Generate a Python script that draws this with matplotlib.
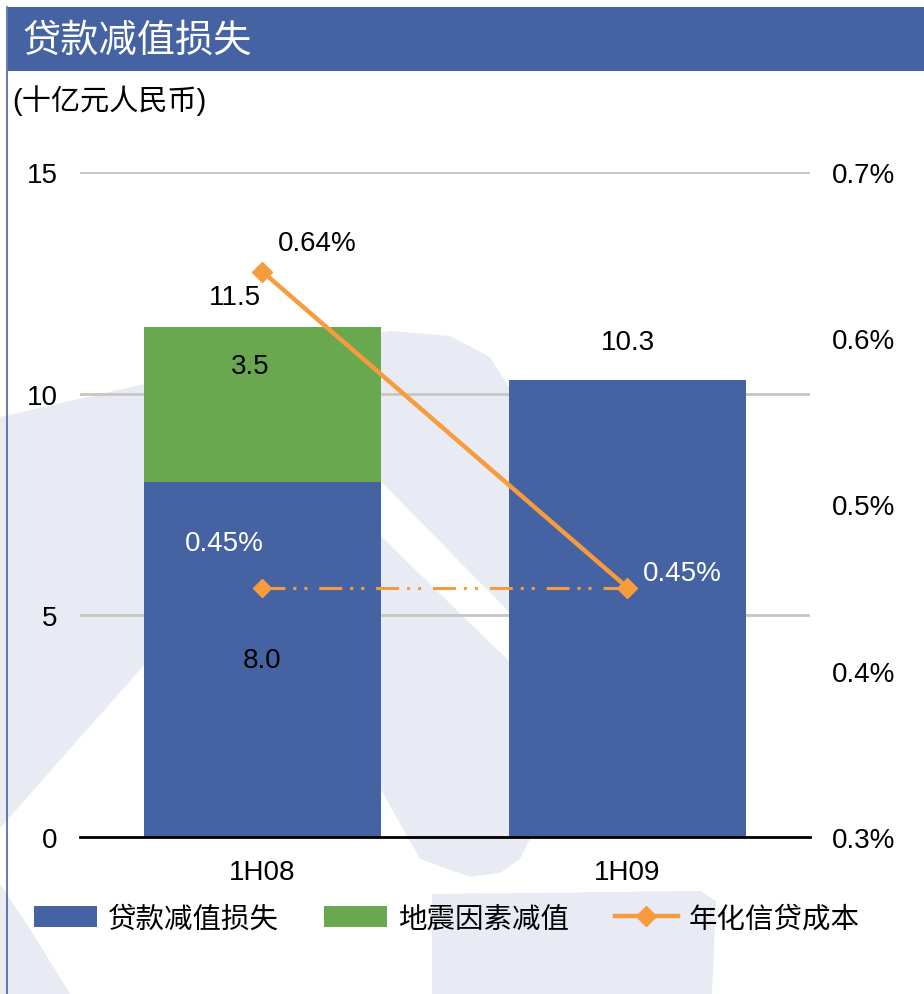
import matplotlib
matplotlib.use("Agg")
import matplotlib.pyplot as plt
from matplotlib.patches import Polygon, Rectangle
from matplotlib.ticker import FuncFormatter

plt.rcParams['font.family'] = ['Liberation Sans', 'Noto Sans CJK SC', 'DejaVu Sans']

# ===== datos =====
periodos = ['1H08', '1H09']
perdida_prestamos = [8.0, 10.3]
perdida_terremoto = [3.5, 0.0]
total_etiquetas = [11.5, 10.3]
coste_credito = [0.64, 0.45]
coste_sin_terremoto = [0.45, 0.45]

titulo = '贷款减值损失'
unidad = '(十亿元人民币)'
serie_nombres = ['贷款减值损失', '地震因素减值', '年化信贷成本']

AZUL = '#4563A3'
VERDE = '#6AA84F'
NARANJA = '#F79B3D'
MARCA_AGUA = '#E8EBF3'

W, H = 924, 995
fig = plt.figure(figsize=(W / 100, H / 100), dpi=100)

# ===== fondo: cabecera y marca de agua (coordenadas en pixeles) =====
bg = fig.add_axes([0, 0, 1, 1])
bg.set_xlim(0, W)
bg.set_ylim(H, 0)
bg.axis('off')

formas = [
    [(0, 418), (140, 386), (300, 346), (390, 332), (450, 337), (490, 358), (510, 390),
     (650, 600), (520, 860), (500, 874), (470, 878), (420, 860), (375, 780),
     (145, 665), (0, 829)],
    [(432, 895), (700, 892), (716, 902), (712, 995), (432, 995)],
    [(0, 885), (30, 930), (70, 995), (0, 995)],
]
for f in formas:
    bg.add_patch(Polygon(f, closed=True, facecolor=MARCA_AGUA, edgecolor='none'))
# franja blanca diagonal
bg.add_patch(Polygon([(300, 400), (560, 665), (560, 712), (300, 458)],
                     closed=True, facecolor='white', edgecolor='none'))

bg.add_patch(Rectangle((8, 8), W - 8, 64, facecolor=AZUL, edgecolor='none'))
bg.plot([7, 7], [8, H], color=AZUL, lw=1.2)
bg.text(22, 41, titulo, color='white', fontsize=27.5, va='center', ha='left',
        family=['Noto Sans CJK SC', 'DejaVu Sans'])
bg.text(12, 101, unidad, color='black', fontsize=21, va='center', ha='left')

# ===== grafico principal =====
ax = fig.add_axes([80 / W, (H - 838) / H, 730 / W, 665 / H])
ax.set_facecolor('none')
x = list(range(len(periodos)))
ancho = 0.65

ax.bar(x, perdida_prestamos, width=ancho, color=AZUL, label=serie_nombres[0], zorder=2)
ax.bar(x, perdida_terremoto, width=ancho, bottom=perdida_prestamos, color=VERDE,
       label=serie_nombres[1], zorder=2)

ax.set_xlim(-0.5, 1.5)
ax.set_ylim(0, 15)
ax.set_yticks([0, 5, 10, 15])
ax.set_xticks(x)
ax.set_xticklabels(periodos)
ax.yaxis.grid(True, color='#C9C5C1', lw=2)
ax.set_axisbelow(True)
for lado in ['top', 'right', 'left']:
    ax.spines[lado].set_visible(False)
ax.spines['bottom'].set_color('black')
ax.spines['bottom'].set_linewidth(2)
ax.spines['bottom'].set_zorder(3)
ax.tick_params(axis='y', length=0, labelsize=20, pad=16)
ax.tick_params(axis='x', length=0, labelsize=20, pad=16)

# etiquetas de barras
ax.annotate(f'{total_etiquetas[0]:.1f}', (x[0], total_etiquetas[0]), xytext=(-28, 30),
            textcoords='offset pixels', ha='center', va='center', fontsize=20)
ax.annotate(f'{total_etiquetas[1]:.1f}', (x[1], total_etiquetas[1]), xytext=(0, 38),
            textcoords='offset pixels', ha='center', va='center', fontsize=20)
ax.annotate(f'{perdida_terremoto[0]:.1f}', (x[0], total_etiquetas[0]), xytext=(-12, -39),
            textcoords='offset pixels', ha='center', va='center', fontsize=20)
ax.annotate(f'{perdida_prestamos[0]:.1f}', (x[0], perdida_prestamos[0] / 2),
            ha='center', va='center', fontsize=20)

# ===== eje derecho: coste de credito =====
ax2 = ax.twinx()
ax2.set_ylim(0.3, 0.7)
ax2.set_yticks([0.3, 0.4, 0.5, 0.6, 0.7])
ax2.yaxis.set_major_formatter(FuncFormatter(lambda v, p: f'{v:.1f}%'))
for lado in ['top', 'right', 'left', 'bottom']:
    ax2.spines[lado].set_visible(False)
ax2.tick_params(axis='y', length=0, labelsize=20, pad=16)

ax2.plot(x, coste_sin_terremoto, color=NARANJA, lw=2.2, marker='D', ms=9,
         dashes=[7.5, 2.6, 1, 2.6, 1, 3.9], label='_nolegend_', zorder=3)
ax2.plot(x, coste_credito, color=NARANJA, lw=3.2, marker='D', ms=10,
         label=serie_nombres[2], zorder=4)

ax2.annotate(f'{coste_credito[0]:.2f}%', (x[0], coste_credito[0]), xytext=(55, 29),
             textcoords='offset pixels', ha='center', va='center', fontsize=20)
ax2.annotate(f'{coste_sin_terremoto[0]:.2f}%', (x[0], coste_sin_terremoto[0]), xytext=(-38, 45),
             textcoords='offset pixels', ha='center', va='center', fontsize=20, color='white')
ax2.annotate(f'{coste_credito[1]:.2f}%', (x[1], coste_credito[1]), xytext=(55, 15),
             textcoords='offset pixels', ha='center', va='center', fontsize=20, color='white')

# ===== leyenda =====
h1, l1 = ax.get_legend_handles_labels()
h2, l2 = ax2.get_legend_handles_labels()
fig.legend(h1 + h2, l1 + l2, loc='center', bbox_to_anchor=(447 / W, 1 - 920 / H),
           ncol=3, frameon=False, fontsize=20.5, handlelength=2.2, handleheight=0.75,
           handletextpad=0.4, columnspacing=1.6)

fig.savefig('out.png', dpi=100)
